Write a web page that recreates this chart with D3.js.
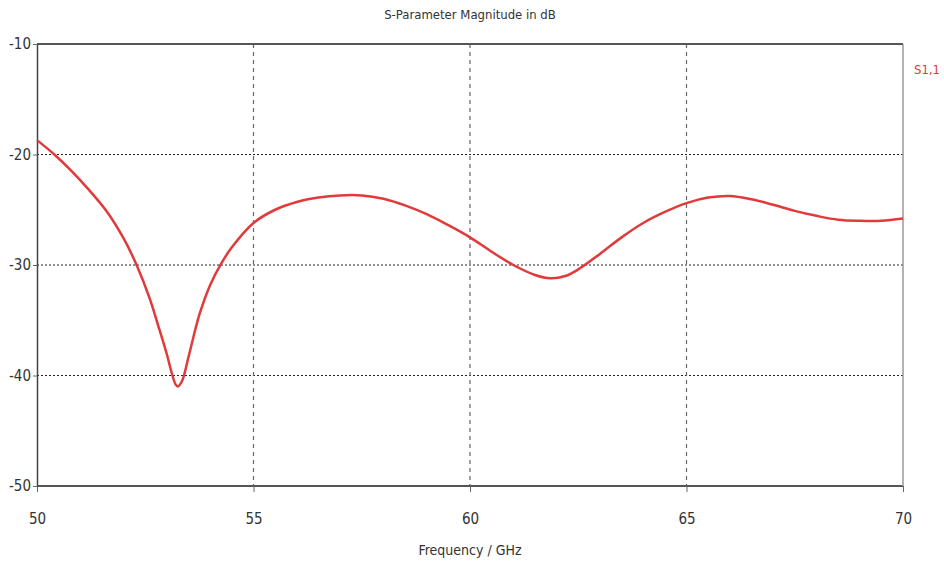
<!DOCTYPE html>
<html>
<head>
<meta charset="utf-8">
<script src="https://cdn.jsdelivr.net/npm/d3@7"></script>
<style>
  body { margin: 0; background: #fff; }
  svg text { font-family: "DejaVu Sans Condensed", "DejaVu Sans", sans-serif; fill: #333; }
</style>
</head>
<body>
<script>
const freqs = [50, 50.4, 50.8, 51.2, 51.6, 52.0, 52.3, 52.6, 52.8, 53.0, 53.1, 53.2, 53.25, 53.35, 53.5, 53.75,
  54.0, 54.25, 54.5, 55.0, 55.5, 56.0, 56.5, 57.0, 57.5, 58.0, 58.5, 59.0, 59.5, 60.0, 60.5, 61.0, 61.5, 61.85,
  62.2, 62.5, 63.0, 63.5, 64.0, 64.5, 65.0, 65.5, 66.0, 66.5, 67.0, 67.5, 68.0, 68.5, 69.0, 69.5, 70.0];
const s11 = [-18.7, -20.0, -21.5, -23.2, -25.1, -27.6, -30.0, -33.0, -35.5, -38.1, -39.6, -40.8, -41.0, -40.5, -38.3, -34.5,
  -31.8, -29.9, -28.4, -26.2, -25.0, -24.3, -23.9, -23.7, -23.7, -24.0, -24.6, -25.4, -26.4, -27.5, -28.8, -30.0, -30.9, -31.2,
  -31.0, -30.4, -29.0, -27.5, -26.2, -25.2, -24.4, -23.9, -23.75, -24.05, -24.55, -25.1, -25.55, -25.9, -26.0, -26.0, -25.8];
const xTicks = [50, 55, 60, 65, 70];
const yTicks = [-10, -20, -30, -40, -50];

const W = 944, H = 564;
const margin = { top: 44, right: 41, bottom: 78, left: 37 };
const width = W - margin.left - margin.right;
const height = H - margin.top - margin.bottom;

const svg = d3.select('body').append('svg')
  .attr('width', W)
  .attr('height', H);

const g = svg.append('g')
  .attr('transform', `translate(${margin.left}, ${margin.top})`);

const x = d3.scaleLinear().domain([50, 70]).range([0, width]);
const y = d3.scaleLinear().domain([-50, -10]).range([height, 0]);

// grid
g.append('g').selectAll('line')
  .data(yTicks.filter(t => t !== -10 && t !== -50))
  .enter().append('line')
  .attr('x1', 0).attr('x2', width)
  .attr('y1', d => y(d)).attr('y2', d => y(d))
  .attr('stroke', '#222').attr('stroke-width', 1.2)
  .attr('stroke-dasharray', '2,2');

g.append('g').selectAll('line')
  .data(xTicks.filter(t => t !== 50 && t !== 70))
  .enter().append('line')
  .attr('y1', 0).attr('y2', height)
  .attr('x1', d => x(d)).attr('x2', d => x(d))
  .attr('stroke', '#666').attr('stroke-width', 1.2)
  .attr('stroke-dasharray', '4,4');

// frame
g.append('line').attr('x1', 0).attr('x2', width).attr('y1', 0).attr('y2', 0)
  .attr('stroke', '#555').attr('stroke-width', 2);
g.append('line').attr('x1', 0).attr('x2', width).attr('y1', height).attr('y2', height)
  .attr('stroke', '#555').attr('stroke-width', 2);
g.append('line').attr('x1', width).attr('x2', width).attr('y1', 0).attr('y2', height)
  .attr('stroke', '#999').attr('stroke-width', 1.5);

const xAxis = g.append('g')
  .attr('transform', `translate(0, ${height})`)
  .call(d3.axisBottom(x).tickValues(xTicks).tickSize(6).tickSizeOuter(0).tickFormat(d => String(d)));
xAxis.select('.domain').remove();
xAxis.selectAll('line').attr('stroke', '#666');
xAxis.selectAll('text').attr('font-size', 15).attr('dy', '1.9em');

const yAxis = g.append('g')
  .call(d3.axisLeft(y).tickValues(yTicks).tickSize(4).tickSizeOuter(0).tickFormat(d => String(d)));
yAxis.select('.domain').attr('stroke', '#444').attr('stroke-width', 1.5);
yAxis.selectAll('line').attr('stroke', '#666');
yAxis.selectAll('text').attr('font-size', 15).attr('x', -6);

// curve
const line = d3.line()
  .x((d, i) => x(freqs[i]))
  .y(d => y(d))
  .curve(d3.curveCatmullRom.alpha(0.5));

g.append('path')
  .datum(s11)
  .attr('fill', 'none')
  .attr('stroke', '#e03a3a')
  .attr('stroke-width', 2.5)
  .attr('d', line);

svg.append('text')
  .attr('x', 470).attr('y', 19)
  .attr('text-anchor', 'middle')
  .attr('font-size', 13)
  .text('S-Parameter Magnitude in dB');

svg.append('text')
  .attr('x', 470).attr('y', 555)
  .attr('text-anchor', 'middle')
  .attr('font-size', 14)
  .text('Frequency / GHz');

svg.append('text')
  .attr('x', 914).attr('y', 74)
  .attr('font-size', 13)
  .style('fill', '#e03a3a')
  .text('S1,1');
</script>
</body>
</html>
